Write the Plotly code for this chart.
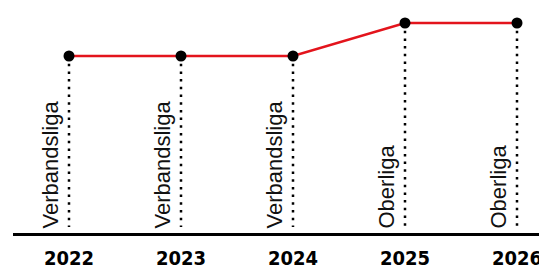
import plotly.graph_objects as go

years = [2022, 2023, 2024, 2025, 2026]
leagues = ["Verbandsliga", "Verbandsliga", "Verbandsliga", "Oberliga", "Oberliga"]
level = [1, 1, 1, 2, 2]

# the page body adds an 8px margin, so the figure is 8px smaller
W, H = 539, 263
ML, MR, MT, MB = 5, 0, 0, 38
plot_h = H - MT - MB
px_per_unit = 33.0
ymax = 1 + 48 / px_per_unit
ymin = ymax - plot_h / px_per_unit
x_lo = 2021.5
x_hi = x_lo + (W - ML - MR) / 112.0

fig = go.Figure()

# dotted drop lines
dx, dy = [], []
for x, v in zip(years, level):
    dx += [x, x, None]
    dy += [v, ymin + 6 / px_per_unit, None]
fig.add_trace(go.Scatter(x=dx, y=dy, mode="lines",
                         line=dict(color="black", width=2.5, dash="2.5px,5.2px"),
                         hoverinfo="skip", showlegend=False))

fig.add_trace(go.Scatter(x=years, y=level, mode="lines+markers",
                         line=dict(color="#e3141c", width=2.5),
                         marker=dict(color="black", size=11),
                         showlegend=False))

for x, name in zip(years, leagues):
    fig.add_annotation(x=x, y=ymin, xref="x", yref="y", text=name,
                       textangle=-90, showarrow=False,
                       xanchor="right", yanchor="bottom",
                       xshift=-5, yshift=2,
                       font=dict(family="Liberation Sans", size=22, color="#111"))

fig.update_xaxes(range=[x_lo, x_hi], showgrid=False, zeroline=False,
                 showline=True, linecolor="black", linewidth=2.5,
                 tickvals=years, ticktext=[str(y) for y in years],
                 ticks="", ticklabelstandoff=5, automargin=False,
                 tickfont=dict(family="DejaVu Sans Condensed", size=20,
                               weight=900, color="black"))
fig.update_yaxes(range=[ymin, ymax], visible=False, automargin=False)

fig.update_layout(width=W, height=H, margin=dict(l=ML, r=MR, t=MT, b=MB),
                  plot_bgcolor="white", paper_bgcolor="white")

fig.write_html("out.html")
